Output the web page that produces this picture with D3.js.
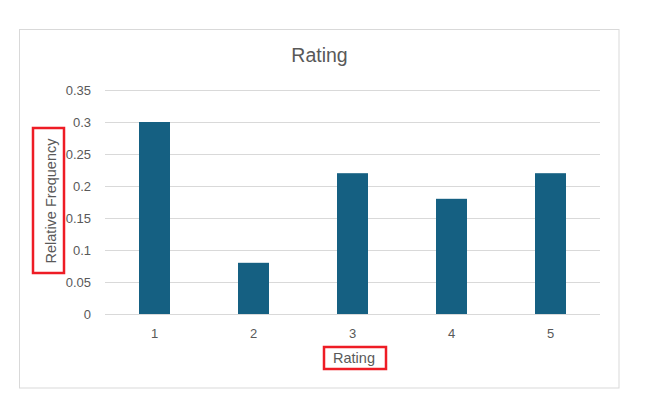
<!DOCTYPE html>
<html>
<head>
<meta charset="utf-8">
<script src="https://cdn.jsdelivr.net/npm/d3@7"></script>
<style>
  body { margin: 0; background: #fff; }
  text { font-family: "Liberation Sans", Arial, sans-serif; fill: #595959; }
</style>
</head>
<body>
<svg id="chart" width="647" height="417"></svg>
<script>
const categories = ["1", "2", "3", "4", "5"];
const frequencies = [0.30, 0.08, 0.22, 0.18, 0.22];
const yTicks = [0, 0.05, 0.1, 0.15, 0.2, 0.25, 0.3, 0.35];
const yTickLabels = ["0", "0.05", "0.1", "0.15", "0.2", "0.25", "0.3", "0.35"];

const svg = d3.select("#chart");
const plot = { left: 105, right: 600, top: 90, bottom: 314 };

// chart area border
svg.append("rect")
  .attr("x", 19.5).attr("y", 29.5)
  .attr("width", 599.5).attr("height", 358.5)
  .attr("fill", "#fff")
  .attr("stroke", "#d9d9d9");

const x = d3.scaleBand()
  .domain(categories)
  .range([plot.left, plot.right])
  .paddingInner(0.687)
  .paddingOuter(0.3435);

const y = d3.scaleLinear()
  .domain([0, 0.35])
  .range([plot.bottom, plot.top]);

// gridlines
svg.append("g")
  .selectAll("line")
  .data(yTicks)
  .enter().append("line")
    .attr("x1", plot.left).attr("x2", plot.right)
    .attr("y1", d => Math.round(y(d)) + 0.5)
    .attr("y2", d => Math.round(y(d)) + 0.5)
    .attr("stroke", "#d9d9d9");

// y tick labels
svg.append("g")
  .selectAll("text")
  .data(yTicks)
  .enter().append("text")
    .attr("x", 91)
    .attr("y", d => y(d))
    .attr("dy", "0.35em")
    .attr("text-anchor", "end")
    .attr("font-size", 13)
    .text((d, i) => yTickLabels[i]);

// bars
svg.append("g")
  .selectAll("rect")
  .data(frequencies)
  .enter().append("rect")
    .attr("x", (d, i) => x(categories[i]))
    .attr("y", d => y(d))
    .attr("width", x.bandwidth())
    .attr("height", d => plot.bottom - y(d))
    .attr("fill", "#156082");

// x tick labels
svg.append("g")
  .selectAll("text")
  .data(categories)
  .enter().append("text")
    .attr("x", d => x(d) + x.bandwidth() / 2)
    .attr("y", 338)
    .attr("text-anchor", "middle")
    .attr("font-size", 13)
    .text(d => d);

// title
svg.append("text")
  .attr("x", 319.5).attr("y", 62)
  .attr("text-anchor", "middle")
  .attr("font-size", 19.5)
  .text("Rating");

// x axis title + red box
svg.append("text")
  .attr("x", 354).attr("y", 363)
  .attr("text-anchor", "middle")
  .attr("font-size", 14.5)
  .text("Rating");
svg.append("rect")
  .attr("x", 324).attr("y", 347)
  .attr("width", 62).attr("height", 22)
  .attr("fill", "none")
  .attr("stroke", "#ee1c25")
  .attr("stroke-width", 2.5);

// y axis title + red box
svg.append("text")
  .attr("transform", "translate(56,201) rotate(-90)")
  .attr("text-anchor", "middle")
  .attr("font-size", 14.5)
  .text("Relative Frequency");
svg.append("rect")
  .attr("x", 33).attr("y", 128)
  .attr("width", 31).attr("height", 145)
  .attr("fill", "none")
  .attr("stroke", "#ee1c25")
  .attr("stroke-width", 2.5);
</script>
</body>
</html>
